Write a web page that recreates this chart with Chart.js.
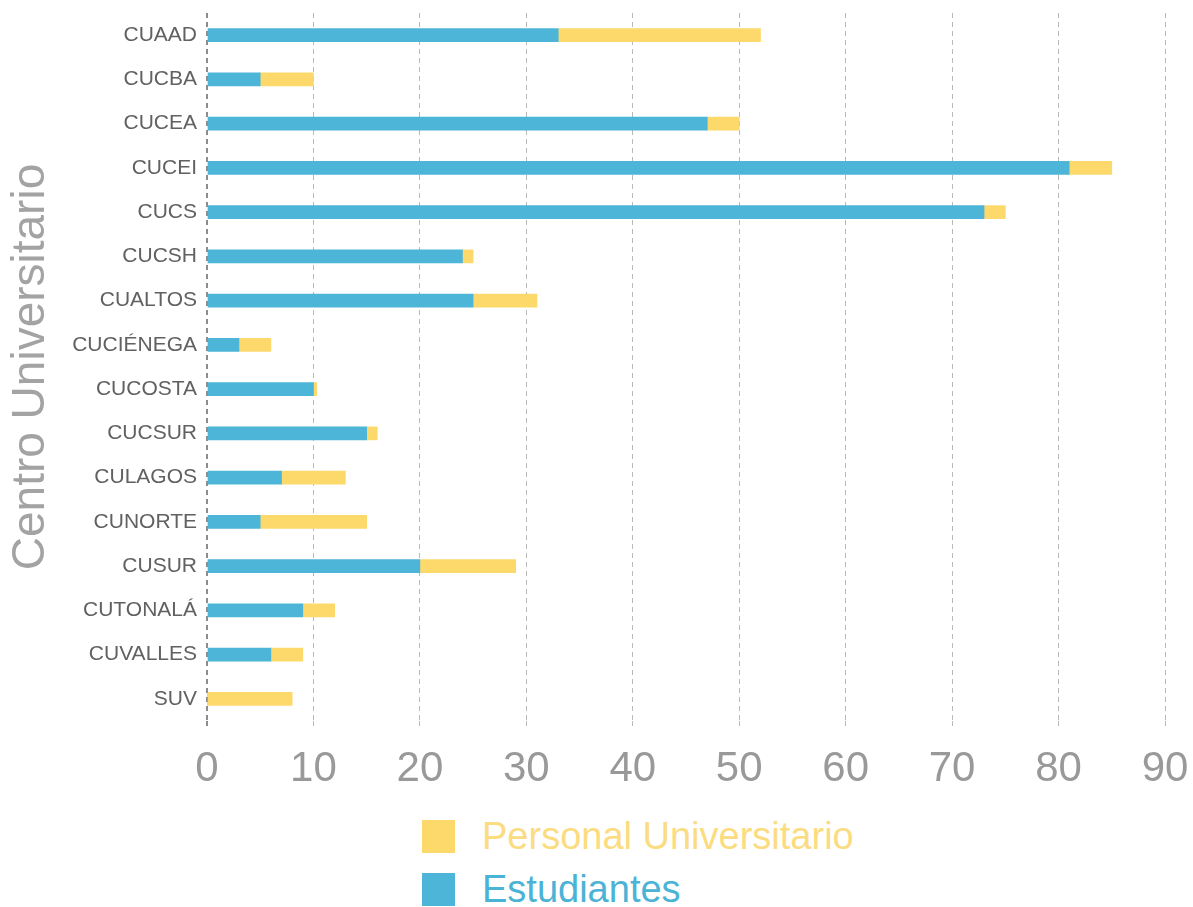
<!DOCTYPE html>
<html lang="es">
<head>
<meta charset="utf-8">
<title>Centro Universitario</title>
<script src="https://cdn.jsdelivr.net/npm/chart.js@4.4.1/dist/chart.umd.min.js"></script>
<style>
  body { margin: 0; background: #fff; font-family: "Liberation Sans", Arial, sans-serif; }
  #wrap { position: relative; width: 1193px; height: 907px; }
  #box { position: absolute; left: 0; top: 0; width: 1193px; height: 800px; }
  #legend { position: absolute; left: 422px; top: 819px; }
  .item { display: flex; align-items: center; height: 34px; margin-bottom: 19px; font-size: 38px; }
  .sw { width: 33px; height: 33px; margin-right: 27px; }
</style>
</head>
<body>
<div id="wrap">
  <div id="box"><canvas id="chart"></canvas></div>
  <div id="legend"></div>
</div>
<script>
// datos
const centros = ['CUAAD', 'CUCBA', 'CUCEA', 'CUCEI', 'CUCS', 'CUCSH', 'CUALTOS', 'CUCIÉNEGA',
  'CUCOSTA', 'CUCSUR', 'CULAGOS', 'CUNORTE', 'CUSUR', 'CUTONALÁ', 'CUVALLES', 'SUV'];
const estudiantes = [33, 5, 47, 81, 73, 24, 25, 3, 10, 15, 7, 5, 20, 9, 6, 0];
const personal = [19, 5, 3, 4, 2, 1, 6, 3, 0.3, 1, 6, 10, 9, 3, 3, 8];
const xTicks = [0, 10, 20, 30, 40, 50, 60, 70, 80, 90];

const azul = '#4db5d7';
const amarillo = '#fdd96c';

const ctx = document.getElementById('chart').getContext('2d');
const chart = new Chart(ctx, {
  type: 'bar',
  data: {
    labels: centros,
    datasets: [{
      label: 'Estudiantes',
      data: estudiantes,
      backgroundColor: azul,
      legendText: '#4bb3d5',
      barThickness: 13
    }, {
      label: 'Personal Universitario',
      data: personal,
      backgroundColor: amarillo,
      legendText: '#fcdc80',
      barThickness: 13
    }]
  },
  options: {
    indexAxis: 'y',
    responsive: true,
    maintainAspectRatio: false,
    animation: false,
    layout: { padding: { top: 13, right: 28, left: 0, bottom: 0 } },
    plugins: {
      legend: { display: false },
      tooltip: { enabled: false }
    },
    scales: {
      x: {
        stacked: true,
        min: 0,
        max: 90,
        afterBuildTicks: s => { s.ticks = xTicks.map(v => ({ value: v })); },
        afterFit: s => { s.height = 79; s.paddingLeft = 0; s.paddingRight = 0; },
        border: { display: false, dash: [5, 4] },
        grid: {
          color: c => c.index === 0 ? '#8c8c8c' : '#b9b9b9',
          lineWidth: c => c.index === 0 ? 2 : 1,
          tickLength: 7,
          tickBorderDash: [5, 4]
        },
        ticks: {
          color: '#999',
          padding: 16,
          font: { family: '"Liberation Sans", Arial, sans-serif', size: 42 }
        }
      },
      y: {
        stacked: true,
        afterFit: s => { s.width = 207; s.paddingTop = 0; s.paddingBottom = 0; },
        border: { display: false },
        grid: { display: false, drawTicks: false },
        ticks: {
          color: '#616161',
          padding: 10,
          font: { family: '"Liberation Sans", Arial, sans-serif', size: 21 }
        },
        title: {
          display: true,
          text: 'Centro Universitario',
          color: '#a3a3a3',
          padding: { top: 4, bottom: 4 },
          font: { family: '"Liberation Sans", Arial, sans-serif', size: 46 }
        }
      }
    }
  }
});

// leyenda (orden inverso, como en el original)
const legend = document.getElementById('legend');
chart.data.datasets.slice().reverse().forEach(ds => {
  const item = document.createElement('div');
  item.className = 'item';
  item.innerHTML = `<span class="sw" style="background:${ds.backgroundColor}"></span>` +
    `<span style="color:${ds.legendText}">${ds.label}</span>`;
  legend.appendChild(item);
});
</script>
</body>
</html>
